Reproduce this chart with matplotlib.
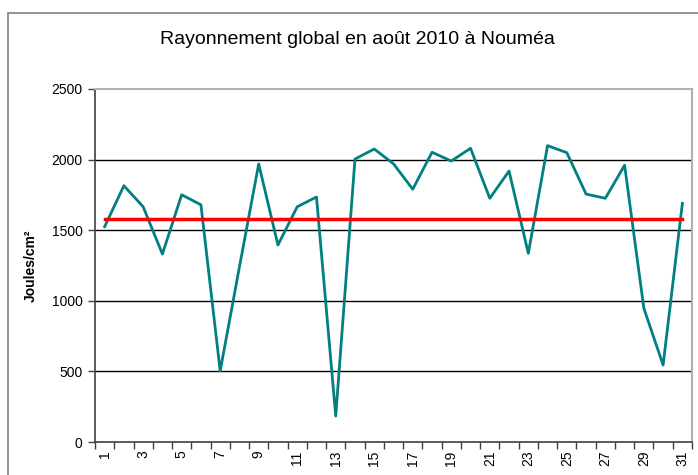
import matplotlib
matplotlib.use("Agg")
import matplotlib.pyplot as plt
from matplotlib.patches import Rectangle
import numpy as np

plt.rcParams['font.family'] = ['Liberation Sans', 'DejaVu Sans']

days = list(range(1, 32))
values = [1525, 1815, 1666, 1331, 1751, 1680, 503, 1240, 1969, 1395,
          1666, 1735, 184, 2004, 2075, 1970, 1790, 2052, 1990, 2080,
          1726, 1919, 1336, 2099, 2049, 1756, 1726, 1960, 947, 545, 1690]
mean_value = 1579
title = "Rayonnement global en août 2010 à Nouméa"
ylabel = "Joules/cm²"
yticks = [0, 500, 1000, 1500, 2000, 2500]

fig = plt.figure(figsize=(6.98, 4.75), dpi=100)
fig.patches.append(Rectangle((8/698, -0.1), 1.2, (475-13)/475 + 0.1,
                             transform=fig.transFigure, fill=False,
                             edgecolor='#808080', linewidth=1.2))
ax = fig.add_axes([95/698, 33/475, 597/698, 353/475])

ax.plot(days, values, color='#008080', linewidth=2.0, zorder=3)
ax.plot([days[0], days[-1]], [mean_value, mean_value], color='#ff0000', linewidth=2.5, zorder=4)

ax.set_xlim(0.5, 31.5)
ax.set_ylim(0, 2500)
ax.set_yticks(yticks)
ax.set_yticklabels([str(v) for v in yticks], fontsize=10)
for v in yticks[1:-1]:
    ax.axhline(v, color='black', linewidth=1.0, zorder=1)

ax.set_xticks(np.arange(0.5, 32.0, 1.0))
ax.set_xticklabels([])
ax.set_xticks(days, minor=True)
ax.set_xticklabels([str(d) if d % 2 == 1 else '' for d in days], minor=True,
                   rotation=90, fontsize=10)
ax.tick_params(axis='x', which='major', direction='out', length=5, width=1, color='#404040')
ax.tick_params(axis='x', which='minor', length=0, pad=6)
ax.tick_params(axis='y', direction='out', length=5, width=1, color='#404040', pad=4)

for s in ['top', 'right']:
    ax.spines[s].set_color('#b0b0b0')
    ax.spines[s].set_linewidth(1.5)
for s in ['left', 'bottom']:
    ax.spines[s].set_color('#404040')
    ax.spines[s].set_linewidth(1.2)

ax.set_ylabel(ylabel, fontsize=10, fontweight='bold', labelpad=10)
fig.text(357/698, 1 - 40/475, title, ha='center', va='center', fontsize=14)

fig.savefig('out.png', dpi=100)
